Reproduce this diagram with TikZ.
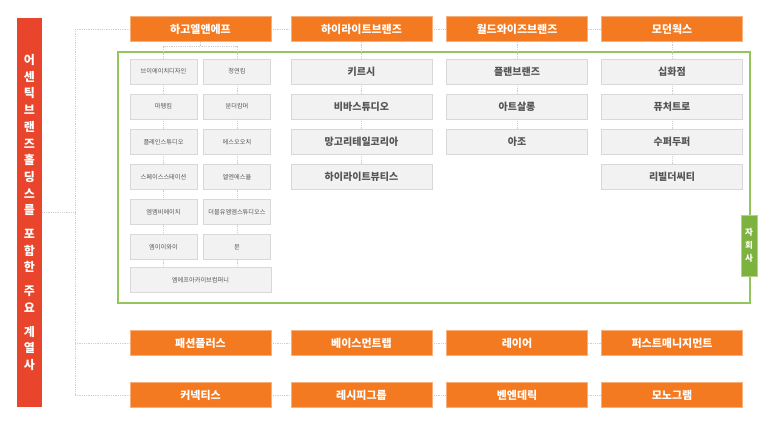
\documentclass[tikz,border=0pt]{standalone}
\usepackage{fontspec}
\setmainfont{Noto Sans CJK KR}
\usetikzlibrary{positioning}
\definecolor{hdorange}{HTML}{F37A21}
\definecolor{rootred}{HTML}{E8452C}
\definecolor{framegreen}{HTML}{92C55A}
\definecolor{labelgreen}{HTML}{7DB23F}
\definecolor{boxfill}{HTML}{F2F2F2}
\definecolor{boxline}{HTML}{D8D8D8}
\definecolor{boxtext}{HTML}{555555}
\definecolor{linegray}{HTML}{CFCFCF}
\tikzset{head box/.style={fill=hdorange, draw=hdorange!60, text=white, rectangle, minimum width=141pt, minimum height=25pt, inner sep=0pt, font=\fontsize{11}{12}\selectfont\bfseries}}
\tikzset{brand box/.style={draw=boxline, fill=boxfill, text=boxtext, rectangle, minimum width=141pt, minimum height=25pt, inner sep=0pt, font=\fontsize{10}{11}\selectfont\bfseries}}
\tikzset{small box/.style={brand box, minimum width=67pt, text=boxtext, font=\fontsize{6.2}{7}\selectfont}}
\tikzset{link/.style={draw=linegray, densely dotted, line width=0.8pt}}

\begin{document}
\begin{tikzpicture}[x=1pt, y=-1pt, node distance=9.7pt]
\useasboundingbox (0,0) rectangle (773,424);
% group and subsidiary frame
\node[fill=rootred, text=white, minimum width=25pt, minimum height=389pt, inner sep=0pt, align=center, font=\fontsize{12}{16.7}\selectfont\bfseries] (root) at (29.5,212.5) {어\\센\\틱\\브\\랜\\즈\\홀\\딩\\스\\를\\[7pt]포\\함\\한\\[7pt]주\\요\\[7pt]계\\열\\사};
\node[draw=framegreen, line width=1.2pt, minimum width=632pt, minimum height=251pt, inner sep=0pt] (sub) at (434,177.5) {};
\coordinate (sp1) at (75,29);
\coordinate (spm) at (75,212);
\coordinate (sp2) at (75,343);
\coordinate (sp3) at (75,395);

% top row
\node[head box] (h1) at (200.5,29) {하고엘앤에프};
\node[head box] (h2) at (361.5,29) {하이라이트브랜즈};
\node[head box] (h3) at (517,29) {월드와이즈브랜즈};
\node[head box] (h4) at (672,29) {모던웍스};

% hago
\node[small box] (a1) at (163.5,71.5) {브이에이치디자인};
\node[small box, below=of a1] (a2) {마뗑킴};
\node[small box, below=of a2] (a3) {플레인스튜디오};
\node[small box, below=of a3] (a4) {스페이스스테이션};
\node[small box, below=of a4] (a5) {엠엠비에이치};
\node[small box, below=of a5] (a6) {엠이이와이};
\node[small box] (b1) at (237,71.5) {청연킴};
\node[small box, below=of b1] (b2) {분더캄머};
\node[small box, below=of b2] (b3) {에스오오치};
\node[small box, below=of b3] (b4) {엘엔에스율};
\node[small box, below=of b4] (b5) {더블유엠엠스튜디오스};
\node[small box, below=of b5] (b6) {문};
\node[small box, minimum width=141pt] (a7) at (200.5,280) {엠에프아카이브컴퍼니};
\coordinate (j1) at (200.5,46);

% highlight
\node[brand box] (k1) at (361.5,71.5) {키르시};
\node[brand box, below=of k1] (k2) {비바스튜디오};
\node[brand box, below=of k2] (k3) {망고리테일코리아};
\node[brand box, below=of k3] (k4) {하이라이트뷰티스};

% worldwise
\node[brand box] (w1) at (517,71.5) {플랜브랜즈};
\node[brand box, below=of w1] (w2) {아트살롱};
\node[brand box, below=of w2] (w3) {아조};

% modern works
\node[brand box] (m1) at (672,71.5) {십화점};
\node[brand box, below=of m1] (m2) {퓨처트로};
\node[brand box, below=of m2] (m3) {수퍼두퍼};
\node[brand box, below=of m3] (m4) {리빌더씨티};

% lower rows
\node[head box] (p1) at (200.5,343) {패션플러스};
\node[head box] (p2) at (361.5,343) {베이스먼트랩};
\node[head box] (p3) at (517,343) {레이어};
\node[head box] (p4) at (672,343) {퍼스트매니지먼트};
\node[head box] (q1) at (200.5,395) {커넥티스};
\node[head box] (q2) at (361.5,395) {레시피그룹};
\node[head box] (q3) at (517,395) {벤엔데릭};
\node[head box] (q4) at (672,395) {모노그램};

% connectors
\draw[link] (root.east |- spm) -- (spm);
\draw[link] (sp1) -- (sp3);
\draw[link] (sp1) -- (h1.west);
\draw[link] (h1.east) -- (h2.west);
\draw[link] (h2.east) -- (h3.west);
\draw[link] (h3.east) -- (h4.west);
\draw[link] (sp2) -- (p1.west);
\draw[link] (p1.east) -- (p2.west);
\draw[link] (p2.east) -- (p3.west);
\draw[link] (p3.east) -- (p4.west);
\draw[link] (sp3) -- (q1.west);
\draw[link] (q1.east) -- (q2.west);
\draw[link] (q2.east) -- (q3.west);
\draw[link] (q3.east) -- (q4.west);
\draw[link] (h1.south) -- (j1);
\draw[link] (a1.north) |- (j1);
\draw[link] (b1.north) |- (j1);
\draw[link] (a1) -- (a2);
\draw[link] (a2) -- (a3);
\draw[link] (a3) -- (a4);
\draw[link] (a4) -- (a5);
\draw[link] (a5) -- (a6);
\draw[link] (a6.south) -- (a6.south |- a7.north);
\draw[link] (b1) -- (b2);
\draw[link] (b2) -- (b3);
\draw[link] (b3) -- (b4);
\draw[link] (b4) -- (b5);
\draw[link] (b5) -- (b6);
\draw[link] (b6.south) -- (b6.south |- a7.north);
\draw[link] (h2) -- (k1);
\draw[link] (k1) -- (k2);
\draw[link] (k2) -- (k3);
\draw[link] (k3) -- (k4);
\draw[link] (h3) -- (w1);
\draw[link] (w1) -- (w2);
\draw[link] (w2) -- (w3);
\draw[link] (h4) -- (m1);
\draw[link] (m1) -- (m2);
\draw[link] (m2) -- (m3);
\draw[link] (m3) -- (m4);

\node[fill=labelgreen, draw=labelgreen!60, text=white, minimum width=16pt, minimum height=61pt, inner sep=0pt, align=center, font=\fontsize{8.5}{13}\selectfont\bfseries] (sublabel) at (749,245.5) {자\\회\\사};
\end{tikzpicture}
\end{document}
